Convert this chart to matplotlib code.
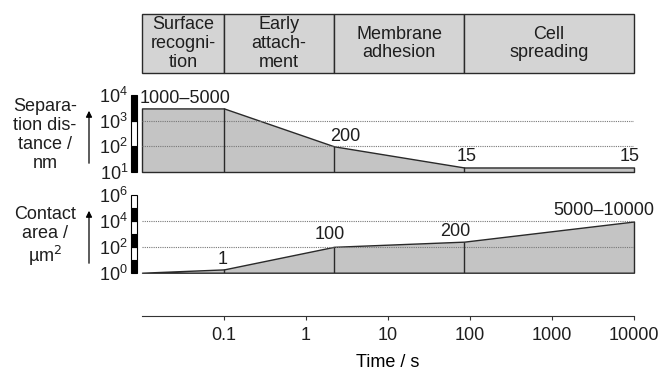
import numpy as np
import matplotlib
matplotlib.use('Agg')
from matplotlib import pyplot as plt
from matplotlib.transforms import blended_transform_factory

plt.rcParams['font.family'] = ['Liberation Sans', 'DejaVu Sans']
plt.rcParams['font.size'] = 13
plt.rcParams['text.color'] = '#1e1e1e'
plt.rcParams['xtick.color'] = '#1e1e1e'
plt.rcParams['ytick.color'] = '#1e1e1e'

# phases (boundaries in s)
phase_names = ['Surface\nrecogni-\ntion', 'Early\nattach-\nment', 'Membrane\nadhesion', 'Cell\nspreading']
phase_edges = [0.01, 0.1, 2.2, 85, 10000]

# curves
time_pts = [0.01, 0.1, 2.2, 85, 10000]
sep_vals = [3000, 3000, 100, 15, 15]
area_vals = [1, 1.8, 100, 250, 9000]

# value labels
sep_label_t = [0.01, 2.2, 85, 10000]
sep_label_v = [3000, 100, 15, 15]
sep_labels = ['1000\u20135000', '200', '15', '15']
area_label_t = [0.1, 2.2, 85, 10000]
area_label_v = [1.8, 100, 250, 9000]
area_labels = ['1', '100', '200', '5000\u201310000']

time_ticks = [0.1, 1, 10, 100, 1000, 10000]
time_labels = ['0.1', '1', '10', '100', '1000', '10000']

W, H = 659, 370
fig = plt.figure(figsize=(W / 100, H / 100), dpi=100)

def rect(x0, y0, x1, y1):
    # pixel box -> figure fraction
    return [x0 / W, 1 - y1 / H, (x1 - x0) / W, (y1 - y0) / H]

xl, xr = 142, 634
box_col = '#d4d4d4'
fill_col = '#c4c4c4'
line_col = '#2a2a2a'

# phase boxes
ax_box = fig.add_axes(rect(xl, 14, xr, 73))
ax_box.set_xscale('log')
ax_box.set_xlim(phase_edges[0], phase_edges[-1])
ax_box.set_ylim(0, 1)
for i, name in enumerate(phase_names):
    ax_box.axvspan(phase_edges[i], phase_edges[i + 1], facecolor=box_col,
                   edgecolor=line_col, lw=1.0, clip_on=False)
    xm = np.sqrt(phase_edges[i] * phase_edges[i + 1])
    ax_box.text(xm, 0.5, name, ha='center', va='center', linespacing=1.15)
ax_box.axis('off')


def panel(ax, vals, ylim, yticks, grid, bar_black, lab_t, lab_v, labs, offs):
    ax.set_xscale('log')
    ax.set_yscale('log')
    ax.set_xlim(time_pts[0], time_pts[-1])
    ax.set_ylim(*ylim)
    ax.fill_between(time_pts, ylim[0], vals, facecolor=fill_col,
                    edgecolor=line_col, lw=1.0, zorder=2, clip_on=False)
    for g in grid:
        ax.axhline(g, color='#777777', lw=0.8, ls=(0, (1, 1)), zorder=3)
    ax.vlines(time_pts[1:-1], ylim[0], vals[1:-1], color=line_col, lw=1.0, zorder=4)
    # decade bar
    tr = blended_transform_factory(ax.transAxes, ax.transData)
    decs = np.log10(ylim)
    for k, d in enumerate(range(int(decs[0]), int(decs[1]))):
        ax.add_patch(plt.Rectangle((-0.0224, 10 ** d), 0.0122, 10 ** (d + 1) - 10 ** d,
                                   transform=tr, clip_on=False,
                                   facecolor='black' if bar_black[k] else 'white',
                                   edgecolor='black', lw=0.8))
    ax.set_yticks(yticks)
    ax.set_yticks([], minor=True)
    ax.tick_params(axis='y', length=0, pad=10)
    ax.set_xticks([])
    ax.set_xticks([], minor=True)
    for s in ax.spines.values():
        s.set_visible(False)
    for t, v, s, o in zip(lab_t, lab_v, labs, offs):
        ax.annotate(s, (t, v), xytext=o, textcoords='offset points',
                    ha='center', va='center', annotation_clip=False)


ax_sep = fig.add_axes(rect(xl, 95, xr, 172))
panel(ax_sep, sep_vals, (10, 10000), [10, 100, 1000, 10000], [100, 1000],
      [True, False, True], sep_label_t, sep_label_v, sep_labels,
      [(31, 7), (8, 7), (1.5, 8), (-3, 8)])

ax_con = fig.add_axes(rect(xl, 195, xr, 272.7))
panel(ax_con, area_vals, (1, 1e6), [1, 100, 1e4, 1e6], [100, 1e4],
      [True, False, True, False, True, False], area_label_t, area_label_v,
      area_labels, [(-1, 7), (-3, 8.5), (-6.5, 7), (-21.5, 8)])

# time axis
ax_t = fig.add_axes(rect(xl, 315, xr, 316))
ax_t.set_xscale('log')
ax_t.set_xlim(time_pts[0], time_pts[-1])
ax_t.set_xticks(time_ticks)
ax_t.set_xticklabels(time_labels)
ax_t.set_xticks([], minor=True)
ax_t.set_yticks([])
for s in ['top', 'left', 'right']:
    ax_t.spines[s].set_visible(False)
ax_t.spines['bottom'].set_color('#333333')
ax_t.tick_params(axis='x', length=3, pad=5, color='#333333')
ax_t.set_xlabel('Time / s', labelpad=7)
ax_t.patch.set_visible(False)

# y titles with arrows
fig.text(45 / W, 1 - 135 / H, 'Separa-\ntion dis-\ntance /\nnm', ha='center',
         va='center', linespacing=1.15)
fig.text(45 / W, 1 - 237 / H, 'Contact\narea /\n\u00b5m$^2$', ha='center',
         va='center', linespacing=1.15)
for y0, y1 in [(166, 108), (266, 208)]:
    fig.add_artist(matplotlib.patches.FancyArrowPatch(
        (89 / W, 1 - y0 / H), (89 / W, 1 - y1 / H), transform=fig.transFigure,
        arrowstyle='-|>', mutation_scale=9, color='black', lw=0.9))

fig.savefig('out.png', dpi=100)
